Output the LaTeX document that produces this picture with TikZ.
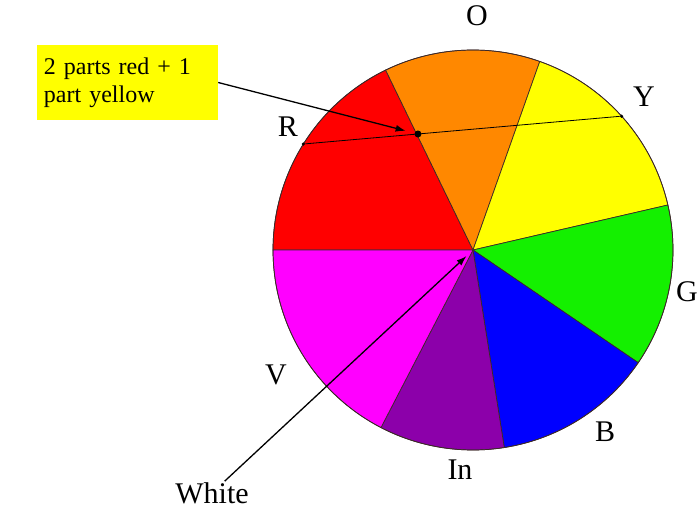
\documentclass[tikz,border=0pt]{standalone}
\usepackage{fontspec}
\setmainfont{Liberation Serif}
\usetikzlibrary{arrows.meta, calc}
\definecolor{wheelRed}{RGB}{255, 0, 0}
\definecolor{wheelOrange}{RGB}{255, 136, 0}
\definecolor{wheelYellow}{RGB}{255, 255, 0}
\definecolor{wheelGreen}{RGB}{20, 240, 0}
\definecolor{wheelBlue}{RGB}{0, 0, 255}
\definecolor{wheelIndigo}{RGB}{140, 0, 170}
\definecolor{wheelViolet}{RGB}{255, 0, 255}
\definecolor{noteYellow}{RGB}{255, 255, 0}
\definecolor{wheelLine}{RGB}{60, 40, 40}
\tikzset{
  Sector/.style     = {draw=wheelLine, line width=0.7pt},
  WheelLabel/.style = {font=\fontsize{30}{30}\selectfont, inner sep=1pt},
  NoteBox/.style    = {fill=noteYellow, align=left, inner sep=7pt,
                       font=\fontsize{24}{28}\selectfont,
                       text width=167pt, minimum height=75pt},
  Chord/.style      = {line width=0.8pt},
  Pointer/.style    = {line width=1.3pt, -{Latex[length=10pt, width=7pt]}},
  MixDot/.style     = {circle, fill=black, inner sep=0pt, minimum size=7pt},
  EndDot/.style     = {circle, fill=black, inner sep=0pt, minimum size=3.5pt},
}
\begin{document}
\begin{tikzpicture}[x=1pt, y=1pt]
    \useasboundingbox (-473,-263) rectangle (227,250);
    % the wheel
    \foreach \a/\b/\c in {115.9/180/wheelRed, 70.5/115.9/wheelOrange,
                          13/70.5/wheelYellow, -34.3/13/wheelGreen,
                          -81/-34.3/wheelBlue, -117.4/-81/wheelIndigo,
                          -180/-117.4/wheelViolet}
      \filldraw[Sector, fill=\c] (0,0) -- (\a:200)
        arc[start angle=\a, end angle=\b, radius=200pt] -- cycle;
    \draw[Sector] (0,0) circle[radius=200pt];
    \coordinate (hub) at (0,0);

    \node[WheelLabel] (lblO)  at (4,234)     {O};
    \node[WheelLabel] (lblY)  at (171,153)   {Y};
    \node[WheelLabel] (lblR)  at (-185,123)  {R};
    \node[WheelLabel] (lblG)  at (214,-42)   {G};
    \node[WheelLabel] (lblB)  at (132,-182)  {B};
    \node[WheelLabel] (lblIn) at (-13,-220)  {In};
    \node[WheelLabel] (lblV)  at (-197,-125) {V};
    \node[WheelLabel] (white) at (-261,-243) {White};

    % red + yellow mix
    \node[EndDot] (rp) at (148:200) {};
    \node[EndDot] (yp) at (42:200) {};
    \draw[Chord] (rp) -- (yp);
    \node[MixDot] (mix) at ($(rp)!0.36!(yp)$) {};

    \node[NoteBox] (note) at (-345.5,167.5) {2 parts red + 1\\part yellow};
    \draw[Pointer, shorten >=9pt] (note.east) -- (mix);
    \draw[Pointer, shorten >=9pt] (white) -- (hub);
  \end{tikzpicture}
\end{document}
